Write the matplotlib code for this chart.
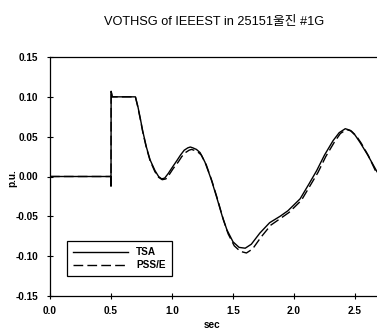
import matplotlib
matplotlib.use("Agg")
import matplotlib.pyplot as plt

title = "VOTHSG of IEEEST in 25151울진 #1G"
x_label = "sec"
y_label = "p.u."
series_names = ["TSA", "PSS/E"]
x_ticks = [0.0, 0.5, 1.0, 1.5, 2.0, 2.5]
x_tick_labels = ["0.0", "0.5", "1.0", "1.5", "2.0", "2.5"]
y_ticks = [-0.15, -0.10, -0.05, 0.00, 0.05, 0.10, 0.15]
y_tick_labels = ["-0.15", "-0.10", "-0.05", "0.00", "0.05", "0.10", "0.15"]

tsa_t = [0.0, 0.499, 0.5, 0.501, 0.51, 0.70, 0.72, 0.74, 0.76, 0.79, 0.82, 0.86, 0.89,
         0.915, 0.94, 0.97, 1.00, 1.04, 1.07, 1.10, 1.13, 1.15, 1.17, 1.20, 1.23, 1.27,
         1.32, 1.366, 1.41, 1.45, 1.50, 1.55, 1.60, 1.65, 1.72, 1.80, 1.885, 1.95, 2.05,
         2.12, 2.186, 2.25, 2.32, 2.37, 2.42, 2.46, 2.50, 2.54, 2.60, 2.68]
tsa_v = [0.0, 0.0, -0.012, 0.107, 0.100, 0.100, 0.088, 0.073, 0.057, 0.037, 0.021, 0.0075,
         0.0, -0.003, -0.002, 0.004, 0.011, 0.020, 0.027, 0.033, 0.036, 0.037, 0.036, 0.034,
         0.030, 0.018, -0.003, -0.026, -0.049, -0.067, -0.082, -0.089, -0.090, -0.085,
         -0.071, -0.058, -0.050, -0.043, -0.028, -0.010, 0.0075, 0.027, 0.045, 0.055, 0.060,
         0.058, 0.052, 0.043, 0.028, 0.006]

pss_t = [0.0, 0.499, 0.5, 0.501, 0.51, 0.70, 0.72, 0.74, 0.76, 0.79, 0.82, 0.86, 0.89,
         0.92, 0.95, 0.98, 1.01, 1.05, 1.08, 1.11, 1.14, 1.16, 1.18, 1.21, 1.24, 1.28,
         1.33, 1.376, 1.42, 1.46, 1.51, 1.56, 1.61, 1.66, 1.73, 1.81, 1.895, 1.96, 2.06,
         2.13, 2.196, 2.26, 2.33, 2.38, 2.43, 2.47, 2.51, 2.55, 2.61, 2.68]
pss_v = [0.0, 0.0, -0.012, 0.107, 0.100, 0.100, 0.087, 0.072, 0.056, 0.036, 0.020, 0.006,
         -0.001, -0.004, -0.003, 0.003, 0.010, 0.018, 0.025, 0.030, 0.033, 0.034, 0.033, 0.031,
         0.027, 0.015, -0.007, -0.030, -0.054, -0.072, -0.087, -0.094, -0.096, -0.091,
         -0.076, -0.061, -0.052, -0.045, -0.030, -0.012, 0.005, 0.025, 0.043, 0.054, 0.059,
         0.057, 0.051, 0.042, 0.026, 0.003]

fig = plt.figure(figsize=(3.77, 3.36), dpi=100)
ax = fig.add_axes([50/377, 1 - 296/336, 327/377, 239/336])

ax.plot(tsa_t, tsa_v, color="black", lw=1.0, ls="-", label=series_names[0])
ax.plot(pss_t, pss_v, color="black", lw=1.0, ls=(0, (7, 3)), label=series_names[1])

ax.set_xlim(0, 2.68)
ax.set_ylim(-0.15, 0.15)
ax.set_xticks(x_ticks)
ax.set_xticklabels(x_tick_labels)
ax.set_yticks(y_ticks)
ax.set_yticklabels(y_tick_labels)

fnt = ["Liberation Sans", "DejaVu Sans"]
for lab in ax.get_xticklabels() + ax.get_yticklabels():
    lab.set_family(fnt)
    lab.set_fontsize(7.2)
    lab.set_fontweight("bold")
ax.tick_params(direction="inout", length=5, width=0.8)
ax.tick_params(axis="y", pad=6)
ax.tick_params(axis="x", pad=5)
ax.spines["right"].set_visible(False)
for s in ["left", "bottom", "top"]:
    ax.spines[s].set_linewidth(0.9)

leg = ax.legend(loc="lower left", bbox_to_anchor=(12/327, 15/239), frameon=True,
                fancybox=False, edgecolor="black", framealpha=1,
                prop={"family": fnt, "size": 7.2, "weight": "bold"},
                handlelength=5.5, borderpad=0.6, labelspacing=0.3)
leg.get_frame().set_linewidth(0.9)

fig.text(214/377, 1 - 22/336, title, ha="center", va="center", fontsize=9.2,
         family=["Liberation Sans", "Noto Sans CJK KR"])
fig.text(212/377, 1 - 325/336, x_label, ha="center", va="center", fontsize=7.2,
         fontweight="bold", family=fnt)
fig.text(12/377, 1 - 178/336, y_label, ha="center", va="center", fontsize=7.2,
         fontweight="bold", rotation=90, family=fnt)

fig.savefig("out.png", dpi=100)
